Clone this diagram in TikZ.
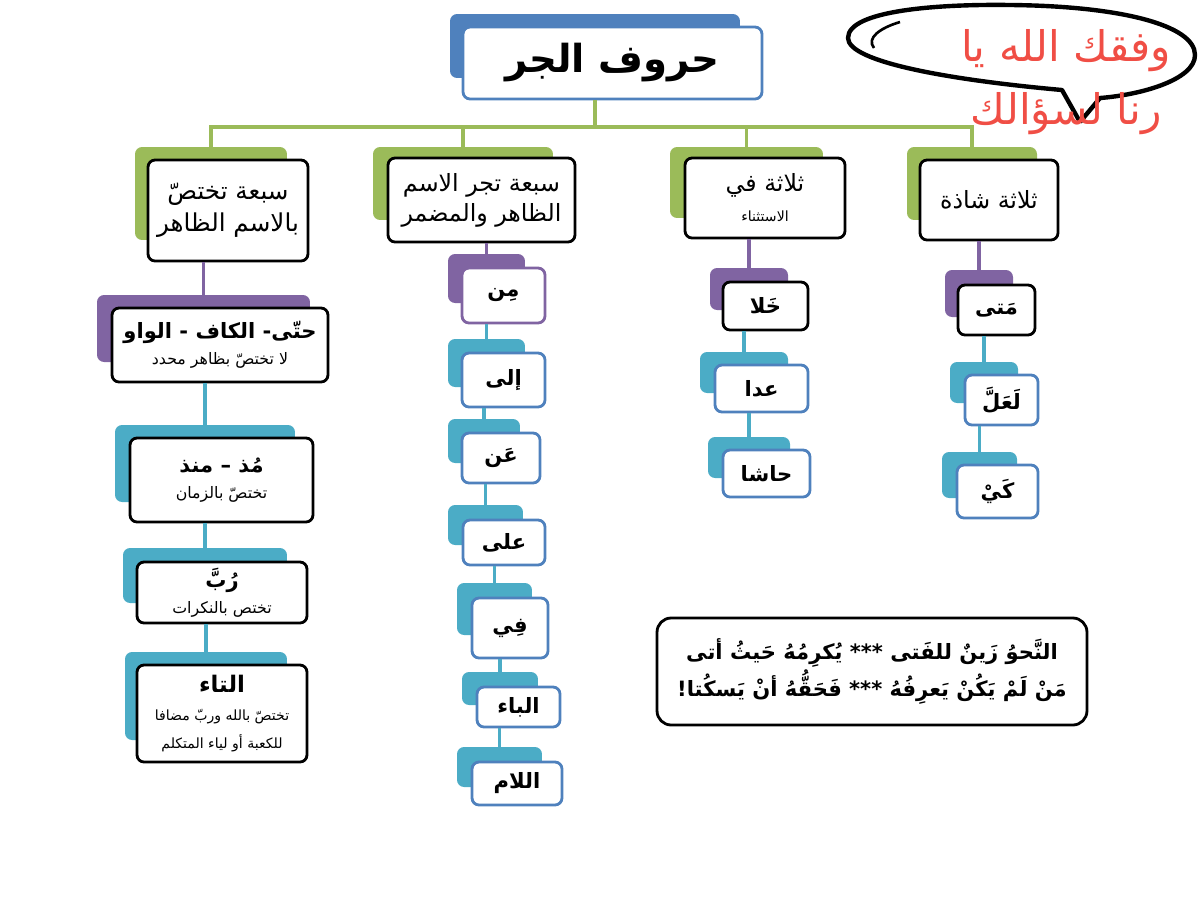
\documentclass[tikz,border=0pt]{standalone}
\usepackage{fontspec}
\newfontfamily\arabicfont[Script=Arabic]{DejaVu Sans}
\TeXXeTstate=1
\definecolor{SmartBlue}{HTML}{4F81BD}
\definecolor{SmartGreen}{HTML}{9BBB59}
\definecolor{SmartPurple}{HTML}{8064A2}
\definecolor{SmartTeal}{HTML}{4BACC6}
\definecolor{NoteRed}{HTML}{F04E45}
\usepackage{tikz}
\tikzset{
    backbox/.style={
        fill=#1,
        rounded corners=4pt,
        inner sep=0pt
    },
    backbox/.default=SmartTeal,
    frontbox/.style={
        draw=#1,
        fill=white,
        line width=1.6pt,
        rounded corners=4pt,
        align=center,
        inner sep=2pt,
        font=\arabicfont\bfseries\fontsize{12}{15}\selectfont
    },
    frontbox/.default=SmartBlue,
    headbox/.style={
        frontbox=black,
        font=\arabicfont\fontsize{13.5}{17}\selectfont
    },
    trunk/.style={
        draw=SmartGreen,
        line width=2pt
    },
    link/.style={
        draw=#1,
        line width=2pt
    },
    link/.default=SmartTeal,
    bubble/.style={
        draw=black,
        line width=2.5pt,
        line join=round
    }
}
\newcommand{\subsize}{\normalfont\arabicfont\fontsize{9}{11}\selectfont}
\newcommand{\smallsub}{\normalfont\arabicfont\fontsize{8}{10.5}\selectfont}

\begin{document}
\begin{tikzpicture}[x=0.02cm, y=-0.02cm]
    \useasboundingbox (0,0) rectangle (1200,900);

    % Title
    \node[backbox=SmartBlue, minimum width=5.8cm, minimum height=1.28cm] (ttlb) at (595,46) {};
    \node[frontbox, minimum width=5.98cm, minimum height=1.44cm,
          font=\arabicfont\bfseries\fontsize{22}{26}\selectfont] (ttl) at (612.5,63) {\beginR حروف الجر\endR};

    % Speech bubble
    \draw[bubble] (1080,122) -- (1062,90) .. controls (950,80) and (848,62) .. (848,38)
        .. controls (848,10) and (940,4) .. (1010,5) .. controls (1120,6) and (1195,25) .. (1195,55)
        .. controls (1195,80) and (1140,95) .. (1100,98) -- (1080,122);
    \draw[line width=1.5pt] (900,22) .. controls (880,28) and (866,38) .. (874,48);
    \node[text=NoteRed, align=center, font=\arabicfont\fontsize{24}{36}\selectfont] (note) at (1066,82)
        {\beginR وفقك الله يا\endR\\\beginR رنا لسؤالك\endR};

    % Headers
    \node[backbox=SmartGreen, minimum width=3.04cm, minimum height=1.86cm] (h1b) at (211,193.5) {};
    \node[headbox, minimum width=3.2cm, minimum height=2.02cm, font=\arabicfont\fontsize{14}{18}\selectfont] (h1) at (228,210.5)
        {\beginR سبعة تختصّ\endR\\\beginR بالاسم الظاهر\endR};
    \node[backbox=SmartGreen, minimum width=3.6cm, minimum height=1.46cm] (h2b) at (463,183.5) {};
    \node[headbox, minimum width=3.74cm, minimum height=1.68cm] (h2) at (481.5,200)
        {\beginR سبعة تجر الاسم\endR\\\beginR الظاهر والمضمر\endR};
    \node[backbox=SmartGreen, minimum width=3.06cm, minimum height=1.42cm] (h3b) at (746.5,182.5) {};
    \node[headbox, minimum width=3.2cm, minimum height=1.6cm] (h3) at (765,198)
        {\beginR ثلاثة في\endR\\\smallsub\beginR الاستثناء\endR};
    \node[backbox=SmartGreen, minimum width=2.6cm, minimum height=1.46cm] (h4b) at (972,183.5) {};
    \node[headbox, minimum width=2.76cm, minimum height=1.6cm] (h4) at (989,200)
        {\beginR ثلاثة شاذة\endR};

    % Left column
    \node[backbox=SmartPurple, minimum width=4.26cm, minimum height=1.34cm] (l1b) at (203.5,328.5) {};
    \node[frontbox=black, minimum width=4.32cm, minimum height=1.48cm] (l1) at (220,345)
        {\beginR حتّى- الكاف - الواو\endR\\\subsize\beginR لا تختصّ بظاهر محدد\endR};
    \node[backbox, minimum width=3.6cm, minimum height=1.54cm] (l2b) at (205,463.5) {};
    \node[frontbox=black, minimum width=3.66cm, minimum height=1.68cm] (l2) at (221.5,480)
        {\beginR مُذ – منذ\endR\\\subsize\beginR تختصّ بالزمان\endR};
    \node[backbox, minimum width=3.28cm, minimum height=1.1cm] (l3b) at (205,575.5) {};
    \node[frontbox=black, minimum width=3.4cm, minimum height=1.22cm] (l3) at (222,592.5)
        {\beginR رُبَّ\endR\\\subsize\beginR تختص بالنكرات\endR};
    \node[backbox, minimum width=3.24cm, minimum height=1.76cm] (l4b) at (206,696) {};
    \node[frontbox=black, minimum width=3.4cm, minimum height=1.94cm,
          font=\arabicfont\bfseries\fontsize{13}{16}\selectfont] (l4) at (222,713.5)
        {\beginR التاء\endR\\\smallsub\beginR تختصّ بالله وربّ مضافا\endR\\\smallsub\beginR للكعبة أو لياء المتكلم\endR};

    % Middle column
    \node[backbox=SmartPurple, minimum width=1.54cm, minimum height=0.98cm] (m1b) at (486.5,278.5) {};
    \node[frontbox=SmartPurple, minimum width=1.66cm, minimum height=1.1cm] (m1) at (503.5,295.5) {\beginR مِن\endR};
    \node[backbox, minimum width=1.54cm, minimum height=0.96cm] (m2b) at (486.5,363) {};
    \node[frontbox, minimum width=1.66cm, minimum height=1.08cm] (m2) at (503.5,380) {\beginR إلى\endR};
    \node[backbox, minimum width=1.44cm, minimum height=0.88cm] (m3b) at (484,441) {};
    \node[frontbox, minimum width=1.56cm, minimum height=1.0cm] (m3) at (501,458) {\beginR عَن\endR};
    \node[backbox, minimum width=1.5cm, minimum height=0.8cm] (m4b) at (485.5,525) {};
    \node[frontbox, minimum width=1.64cm, minimum height=0.9cm] (m4) at (504,542.5) {\beginR على\endR};
    \node[backbox, minimum width=1.5cm, minimum height=1.04cm] (m5b) at (494.5,609) {};
    \node[frontbox, minimum width=1.52cm, minimum height=1.2cm] (m5) at (510,628) {\beginR فِي\endR};
    \node[backbox, minimum width=1.52cm, minimum height=0.66cm] (m6b) at (500,688.5) {};
    \node[frontbox, minimum width=1.66cm, minimum height=0.8cm] (m6) at (518.5,707) {\beginR الباء\endR};
    \node[backbox, minimum width=1.7cm, minimum height=0.8cm] (m7b) at (499.5,767) {};
    \node[frontbox, minimum width=1.8cm, minimum height=0.86cm] (m7) at (517,783.5) {\beginR اللام\endR};

    % Exception column
    \node[backbox=SmartPurple, minimum width=1.56cm, minimum height=0.84cm] (ex1b) at (749,289) {};
    \node[frontbox=black, minimum width=1.7cm, minimum height=0.96cm] (ex1) at (765.5,306) {\beginR خَلا\endR};
    \node[backbox, minimum width=1.76cm, minimum height=0.82cm] (ex2b) at (744,372.5) {};
    \node[frontbox, minimum width=1.86cm, minimum height=0.94cm] (ex2) at (761.5,388.5) {\beginR عدا\endR};
    \node[backbox, minimum width=1.64cm, minimum height=0.82cm] (ex3b) at (749,457.5) {};
    \node[frontbox, minimum width=1.74cm, minimum height=0.94cm] (ex3) at (766.5,473.5) {\beginR حاشا\endR};

    % Rare column
    \node[backbox=SmartPurple, minimum width=1.36cm, minimum height=0.94cm] (sh1b) at (979,293.5) {};
    \node[frontbox=black, minimum width=1.54cm, minimum height=1.0cm] (sh1) at (996.5,310) {\beginR مَتى\endR};
    \node[backbox, minimum width=1.36cm, minimum height=0.82cm] (sh2b) at (984,382.5) {};
    \node[frontbox, minimum width=1.46cm, minimum height=1.0cm] (sh2) at (1001.5,400) {\beginR لَعَلَّ\endR};
    \node[backbox, minimum width=1.5cm, minimum height=0.92cm] (sh3b) at (979.5,475) {};
    \node[frontbox, minimum width=1.62cm, minimum height=1.06cm] (sh3) at (997.5,491.5) {\beginR كَيْ\endR};

    % Verse
    \node[frontbox=black, minimum width=8.6cm, minimum height=2.14cm, rounded corners=8pt,
          font=\arabicfont\bfseries\fontsize{12}{21}\selectfont] (verse) at (872,671.5)
        {\beginR النَّحوُ زَينٌ للفَتى *** يُكرِمُهُ حَيثُ أتى\endR\\\beginR مَنْ لَمْ يَكُنْ يَعرِفُهُ *** فَحَقُّهُ أنْ يَسكُتا!\endR};

    % Links
    \coordinate (hub) at (595,127);
    \draw[trunk] (ttl.south -| hub) -- (hub);
    \foreach \h in {h1b,h2b,h3b,h4b}
        \draw[trunk] (hub) -| (\h.north);
    \foreach \a/\b in {h1/l1b, h2/m1b, h3/ex1b, h4/sh1b}
        \draw[link=SmartPurple] (\a.south -| \b.north) -- (\b.north);
    \foreach \a/\b in {l1/l2b, l2/l3b, l3/l4b, m1/m2b, m2/m3b, m3/m4b, m4/m5b, m5/m6b, m6/m7b, ex1/ex2b, ex2/ex3b, sh1/sh2b, sh2/sh3b}
        \draw[link] (\a.south -| \b.north) -- (\b.north);
\end{tikzpicture}
\end{document}
